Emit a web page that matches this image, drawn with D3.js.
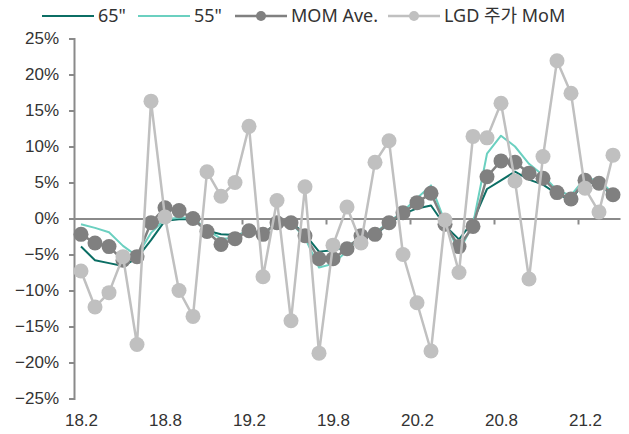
<!DOCTYPE html>
<html>
<head>
<meta charset="utf-8">
<script src="https://cdn.jsdelivr.net/npm/d3@7"></script>
<style>
  body { margin: 0; background: #fff; }
  svg { display: block; font-family: "Noto Sans", "Noto Sans CJK KR", sans-serif; }
</style>
</head>
<body>
<svg></svg>
<script>
const width = 629;
const height = 434;

// months 18.2 .. 21.4
const categories = [
  "18.2","18.3","18.4","18.5","18.6","18.7","18.8","18.9","18.10","18.11","18.12",
  "19.1","19.2","19.3","19.4","19.5","19.6","19.7","19.8","19.9","19.10","19.11","19.12",
  "20.1","20.2","20.3","20.4","20.5","20.6","20.7","20.8","20.9","20.10","20.11","20.12",
  "21.1","21.2","21.3","21.4"
];
const xLabels = ["18.2", "18.8", "19.2", "19.8", "20.2", "20.8", "21.2"];
const yTicks = [-25, -20, -15, -10, -5, 0, 5, 10, 15, 20, 25];

// values in %
const tv65 = [-3.9, -5.8, -6.2, -6.6, -5.5, -3.0, -0.3, -0.1, -0.1, -1.7, -2.2, -2.3, -1.9,
  -2.0, -0.8, -0.5, -2.2, -4.6, -4.4, -3.9, -2.7, -2.3, -0.7, 0.6, 1.4, 1.8, -1.0, -2.9,
  -0.4, 4.1, 5.3, 6.5, 5.4, 4.7, 3.4, 2.6, 5.2, 4.7, 3.2];
const tv55 = [-0.8, -1.3, -1.9, -3.8, -5.2, -2.0, -0.1, 0.1, 0.1, -1.6, -2.8, -2.7, -1.5,
  -2.3, -0.5, -0.6, -2.7, -6.8, -6.3, -4.5, -2.2, -2.0, -0.5, 1.0, 2.8, 4.6, -0.5, -4.6,
  -0.8, 9.0, 11.5, 10.0, 7.6, 6.0, 3.9, 3.2, 5.6, 5.3, 3.5];
const momAve = [-2.2, -3.4, -3.9, -5.8, -5.3, -0.6, 1.5, 1.1, 0.0, -1.8, -3.6, -2.8, -1.7,
  -2.2, -0.6, -0.6, -2.4, -5.6, -5.6, -4.2, -2.4, -2.2, -0.6, 0.8, 2.2, 3.5, -0.8, -3.9,
  -1.1, 5.8, 8.0, 7.8, 6.3, 5.6, 3.6, 2.7, 5.3, 4.9, 3.3];
const lgdMom = [-7.3, -12.3, -10.3, -5.3, -17.5, 16.3, 0.2, -10.0, -13.6, 6.5, 3.1, 5.0, 12.8,
  -8.1, 2.5, -14.2, 4.4, -18.7, -3.7, 1.6, -3.4, 7.8, 10.8, -5.0, -11.7, -18.4, -0.2, -7.5,
  11.4, 11.2, 16.0, 5.2, -8.4, 8.6, 21.9, 17.4, 4.2, 0.9, 8.8];

const series = [
  { name: '65"', values: tv65, color: "#0b6e64", width: 2, marker: false },
  { name: '55"', values: tv55, color: "#6bd0c0", width: 2, marker: false },
  { name: "MOM Ave.", values: momAve, color: "#808080", width: 2.5, marker: true },
  { name: "LGD 주가 MoM", values: lgdMom, color: "#c0c0c0", width: 2.5, marker: true }
];

const svg = d3.select("svg")
  .attr("width", width)
  .attr("height", height);

const x = d3.scaleLinear()
  .domain([-0.5, categories.length - 0.5])
  .range([74, 620]);

const y = d3.scaleLinear()
  .domain([-25, 25])
  .range([398.5, 38.5]);

const axisColor = "#8a8a8a";
const textColor = "#333333";
const fontSize = "17px";

// y axis
const gy = svg.append("g")
  .attr("transform", "translate(74,0)")
  .call(d3.axisLeft(y)
    .tickValues(yTicks)
    .tickSize(5)
    .tickPadding(10)
    .tickFormat(d => (d < 0 ? "\u2212" + Math.abs(d) : d) + "%"));
gy.select(".domain").attr("stroke", axisColor).attr("stroke-width", 2);
gy.selectAll(".tick line").attr("stroke", axisColor).attr("stroke-width", 2);
gy.selectAll(".tick text").attr("fill", textColor).style("font-size", fontSize);

// zero line with tick marks between categories, every 6 months
const boundaryTicks = xLabels.slice(1).map(l => categories.indexOf(l) - 0.5);
const gx = svg.append("g")
  .attr("transform", `translate(0,${y(0)})`)
  .call(d3.axisBottom(x)
    .tickValues(boundaryTicks)
    .tickSize(6)
    .tickSizeOuter(0)
    .tickFormat(""));
gx.select(".domain").attr("stroke", axisColor).attr("stroke-width", 2);
gx.selectAll(".tick line").attr("stroke", axisColor).attr("stroke-width", 2);

// category labels at the bottom
const gl = svg.append("g")
  .attr("transform", "translate(0,409)")
  .call(d3.axisBottom(x)
    .tickValues(xLabels.map(l => categories.indexOf(l)))
    .tickSize(0)
    .tickPadding(5)
    .tickFormat(i => categories[i]));
gl.select(".domain").remove();
gl.selectAll(".tick text").attr("fill", textColor).style("font-size", fontSize);

// lines and markers
const line = d3.line()
  .x((d, i) => x(i))
  .y(d => y(d));

series.forEach(s => {
  svg.append("path")
    .datum(s.values)
    .attr("fill", "none")
    .attr("stroke", s.color)
    .attr("stroke-width", s.width)
    .attr("stroke-linejoin", "round")
    .attr("d", line);

  if (s.marker) {
    svg.append("g")
      .selectAll("circle")
      .data(s.values)
      .enter()
      .append("circle")
      .attr("cx", (d, i) => x(i))
      .attr("cy", d => y(d))
      .attr("r", 7.5)
      .attr("fill", s.color);
  }
});

// legend
const legendX = [42, 138, 235, 388];
const legend = svg.append("g");
series.forEach((s, i) => {
  const g = legend.append("g").attr("transform", `translate(${legendX[i]},16)`);
  g.append("line")
    .attr("x1", 0).attr("x2", 52)
    .attr("stroke", s.color)
    .attr("stroke-width", s.width);
  if (s.marker) {
    g.append("circle").attr("cx", 26).attr("r", 5).attr("fill", s.color);
  }
  g.append("text")
    .attr("x", 56)
    .attr("dy", "0.35em")
    .attr("fill", textColor)
    .style("font-size", "18px")
    .text(s.name);
});
</script>
</body>
</html>
